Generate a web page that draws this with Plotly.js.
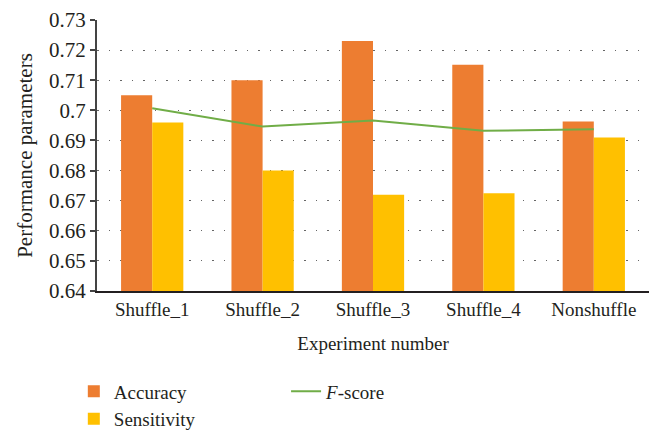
<!DOCTYPE html>
<html><head><meta charset="utf-8">
<script src="https://cdn.plot.ly/plotly-3.0.1.min.js"></script>
<style>body{margin:0;padding:0;background:#fff}#c{width:662px;height:443px}</style>
</head><body><div id="c"></div>
<script>
const categories = ["Shuffle_1","Shuffle_2","Shuffle_3","Shuffle_4","Nonshuffle"];
const accuracy = [0.705, 0.710, 0.723, 0.7151, 0.6963];
const sensitivity = [0.696, 0.680, 0.672, 0.6725, 0.691];
const fscore = [0.7007, 0.6946, 0.6966, 0.6932, 0.6937];
const yTickVals = [0.64,0.65,0.66,0.67,0.68,0.69,0.70,0.71,0.72,0.73];
const yTickText = ["0.64","0.65","0.66","0.67","0.68","0.69","0.7","0.71","0.72","0.73"];

const font = "'Liberation Serif', 'DejaVu Serif', serif";
const traces = [
  {type:"bar", name:"Accuracy", x:categories, y:accuracy, marker:{color:"#ED7D31"}, legend:"legend"},
  {type:"bar", name:"Sensitivity", x:categories, y:sensitivity, marker:{color:"#FFC000"}, legend:"legend"},
  {type:"scatter", mode:"lines", name:"<i>F</i>-score", x:categories, y:fscore, line:{color:"#70AD47", width:2}, legend:"legend2"}
];
const layout = {
  width:662, height:443,
  margin:{l:97, r:13, t:20, b:152, autoexpand:false},
  paper_bgcolor:"#fff", plot_bgcolor:"#fff",
  font:{family:font, size:19, color:"#231f20"},
  barmode:"group", bargap:0.436, bargroupgap:0,
  xaxis:{
    automargin:false,
    showline:true, linecolor:"#231f20", linewidth:2, ticks:"", showgrid:false,
    ticklabelstandoff:0,
    tickfont:{size:19}, title:{text:"Experiment number", font:{size:19}, standoff:18}
  },
  yaxis:{
    automargin:false,
    range:[0.64,0.73], tickvals:yTickVals, ticktext:yTickText,
    showline:true, linecolor:"#444", linewidth:2, ticks:"outside", ticklen:5, tickcolor:"#444", tickwidth:2,
    showgrid:true, gridcolor:"#666", gridwidth:1, griddash:"1.5px,10px", zeroline:false,
    tickfont:{size:21}, title:{text:"Performance parameters", font:{size:21}, standoff:11}
  },
  legend:{x:-0.042, xanchor:"left", y:-0.30, yanchor:"top", orientation:"v", font:{size:19}, tracegroupgap:0, bgcolor:"rgba(0,0,0,0)"},
  legend2:{x:0.3425, xanchor:"left", y:-0.30, yanchor:"top", orientation:"v", font:{size:19}, bgcolor:"rgba(0,0,0,0)"},
  showlegend:true
};
Plotly.newPlot("c", traces, layout, {staticPlot:true, displayModeBar:false});
</script></body></html>
